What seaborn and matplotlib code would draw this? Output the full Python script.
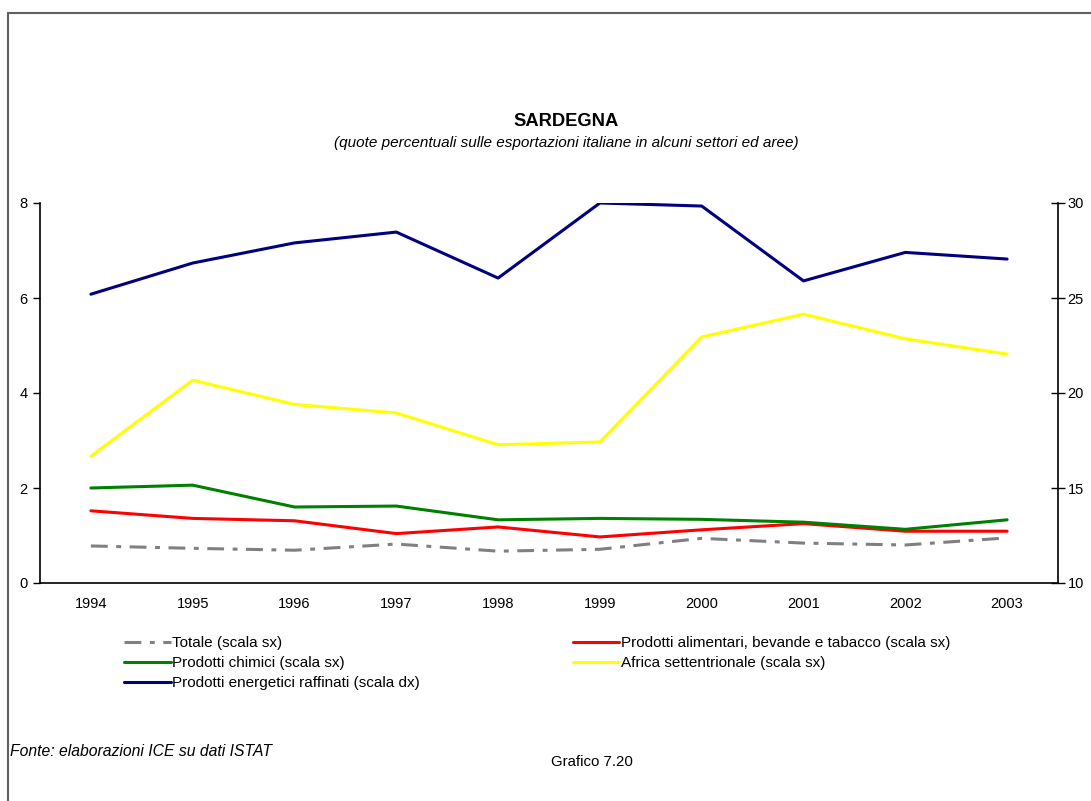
import matplotlib
matplotlib.use("Agg")
import matplotlib.pyplot as plt
import seaborn as sns
import numpy as np
from matplotlib.lines import Line2D

# ---------- data ----------
years = ["1994", "1995", "1996", "1997", "1998", "1999", "2000", "2001", "2002", "2003"]
totale = [0.78, 0.73, 0.69, 0.82, 0.67, 0.71, 0.94, 0.84, 0.80, 0.95]
alimentari = [1.52, 1.36, 1.31, 1.04, 1.18, 0.97, 1.12, 1.25, 1.09, 1.09]
chimici = [2.00, 2.06, 1.60, 1.62, 1.33, 1.36, 1.34, 1.28, 1.13, 1.33]
africa = [2.67, 4.27, 3.76, 3.58, 2.91, 2.97, 5.18, 5.66, 5.14, 4.82]
energetici = [25.2, 26.84, 27.9, 28.47, 26.05, 30.0, 29.84, 25.9, 27.4, 27.05]  # right scale

labels = {
    "totale": "Totale (scala sx)",
    "alimentari": "Prodotti alimentari, bevande e tabacco (scala sx)",
    "chimici": "Prodotti chimici (scala sx)",
    "africa": "Africa settentrionale (scala sx)",
    "energetici": "Prodotti energetici raffinati (scala dx)",
}
# --------------------------

sns.set_style("white")
plt.rcParams["font.family"] = ["Liberation Sans", "DejaVu Sans"]
plt.rcParams["text.color"] = "black"
plt.rcParams["xtick.color"] = "black"
plt.rcParams["ytick.color"] = "black"
plt.rcParams["axes.labelcolor"] = "black"

W, H, dpi = 1091, 801, 100
fig = plt.figure(figsize=(W / dpi, H / dpi), dpi=dpi)
ax = fig.add_axes([40 / W, 1 - 583 / H, (1058 - 40) / W, (583 - 203) / H])
ax2 = ax.twinx()

x = np.arange(len(years))
lw = 2.2
dashdot = (0, (5.5, 2.8, 1.6, 2.8))

sns.lineplot(x=x, y=totale, ax=ax, color="#808080", lw=lw, linestyle=dashdot)
sns.lineplot(x=x, y=alimentari, ax=ax, color="#ff0000", lw=lw)
sns.lineplot(x=x, y=chimici, ax=ax, color="#008000", lw=lw)
sns.lineplot(x=x, y=africa, ax=ax, color="#ffff00", lw=lw)
sns.lineplot(x=x, y=energetici, ax=ax2, color="#000080", lw=lw)

# axes limits
ax.set_xlim(-0.5, len(years) - 0.5)
ax.set_ylim(0, 8)
ax.set_yticks([0, 2, 4, 6, 8])
ax2.set_ylim(10, 30)
ax2.set_yticks([10, 15, 20, 25, 30])

# x ticks at boundaries, labels at centres
ax.set_xticks(np.arange(-0.5, len(years), 1.0))
ax.set_xticklabels([])
ax.set_xticks(x, minor=True)
ax.set_xticklabels(years, minor=True)
ax.tick_params(axis="x", which="major", direction="out", length=6, width=1, color="black")
ax.tick_params(axis="x", which="minor", length=0, pad=10, labelsize=10.5, labelcolor="black")
ax.tick_params(axis="y", direction="out", length=5, width=1, color="black",
               labelsize=10.5, pad=4, labelcolor="black")
ax2.tick_params(axis="y", direction="inout", length=10, width=1, color="black",
                labelsize=10.5, pad=2, labelcolor="black")

for a in (ax, ax2):
    a.grid(False)
    a.spines["top"].set_visible(False)
    for s in ("left", "bottom", "right"):
        a.spines[s].set_color("black")
        a.spines[s].set_linewidth(1.2)
    a.set_xlabel("")
    a.set_ylabel("")
ax.spines["right"].set_visible(False)
ax2.spines["left"].set_visible(False)
ax2.spines["bottom"].set_visible(False)

# titles
fig.text(566 / W, 1 - 121 / H, "SARDEGNA", ha="center", va="center",
         fontsize=13.2, fontweight="bold")
fig.text(566 / W, 1 - 143 / H,
         "(quote percentuali sulle esportazioni italiane in alcuni settori ed aree)",
         ha="center", va="center", fontsize=11, style="italic")

# legend (two columns, row-major order as in the original)
def h(color, ls="-"):
    return Line2D([], [], color=color, lw=lw, linestyle=ls)

handles = [h("#808080", dashdot), h("#008000"), h("#000080"),
           h("#ff0000"), h("#ffff00")]
texts = [labels["totale"], labels["chimici"], labels["energetici"],
         labels["alimentari"], labels["africa"]]
fig.legend(handles, texts, ncol=2, loc="upper left",
           bbox_to_anchor=(124 / W, 1 - 636 / H), frameon=False,
           fontsize=11, handlelength=3.05, handletextpad=0.1,
           labelspacing=0.4, columnspacing=10.0, borderpad=0, borderaxespad=0)

# footer
fig.text(10 / W, 1 - 751 / H, "Fonte: elaborazioni ICE su dati ISTAT",
         ha="left", va="center", fontsize=11.3, style="italic")
fig.text(592 / W, 1 - 762 / H, "Grafico 7.20", ha="center", va="center", fontsize=10.8)

# outer frame (top and left visible)
fig.add_artist(Line2D([8 / W, 8 / W], [0, 1 - 13 / H], transform=fig.transFigure,
                      color="#606060", lw=1.5))
fig.add_artist(Line2D([8 / W, 1], [1 - 13 / H, 1 - 13 / H], transform=fig.transFigure,
                      color="#606060", lw=1.5))

fig.savefig("out.png", dpi=dpi)
print("saved out.png")
